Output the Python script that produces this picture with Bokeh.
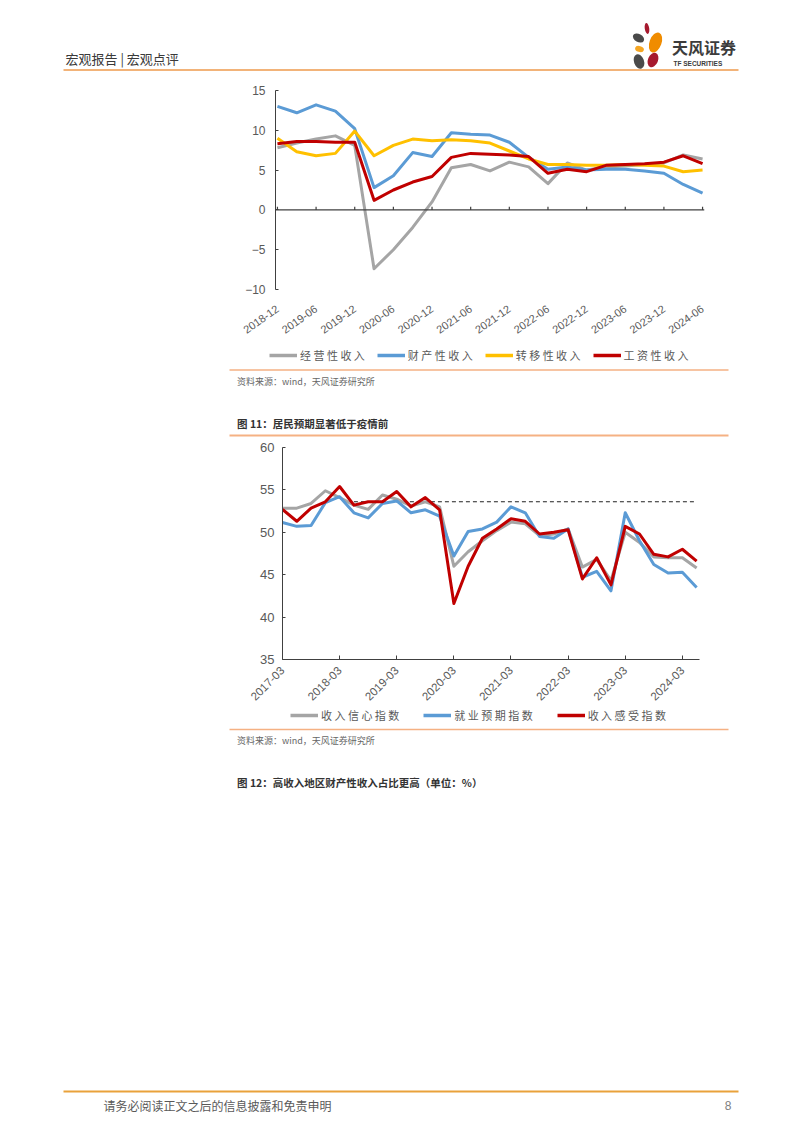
import math
from bokeh.plotting import figure
from bokeh.models import Range1d, FixedTicker, Legend, LegendItem, Span
from bokeh.layouts import column, row
from bokeh.core.properties import value
from bokeh.embed import file_html
from bokeh.resources import INLINE

# ---------------- data: chart 10 (income growth by source, %) ----------------
quarters1 = ["2018-12", "2019-03", "2019-06", "2019-09", "2019-12", "2020-03",
             "2020-06", "2020-09", "2020-12", "2021-03", "2021-06", "2021-09",
             "2021-12", "2022-03", "2022-06", "2022-09", "2022-12", "2023-03",
             "2023-06", "2023-09", "2023-12", "2024-03", "2024-06"]
business_income = [7.8, 8.4, 8.9, 9.3, 8.1, -7.4, -5.0, -2.2, 1.0, 5.3, 5.7, 4.9,
                   6.0, 5.4, 3.3, 5.9, 5.0, 5.4, 5.5, 5.7, 5.9, 6.9, 6.4]
property_income = [13.0, 12.2, 13.2, 12.4, 10.2, 2.8, 4.3, 7.2, 6.7, 9.7, 9.5, 9.4,
                   8.5, 6.6, 5.1, 5.4, 5.0, 5.1, 5.1, 4.9, 4.6, 3.2, 2.1]
transfer_income = [9.0, 7.3, 6.8, 7.1, 9.9, 6.8, 8.1, 8.9, 8.7, 8.8, 8.7, 8.4,
                   7.4, 6.4, 5.7, 5.7, 5.6, 5.6, 5.7, 5.6, 5.5, 4.8, 5.0]
wage_income = [8.3, 8.6, 8.6, 8.5, 8.5, 1.2, 2.5, 3.5, 4.2, 6.6, 7.1, 7.0,
               6.9, 6.7, 4.6, 5.1, 4.8, 5.6, 5.7, 5.8, 6.0, 6.8, 5.8]
names1 = ["经营性收入", "财产性收入", "转移性收入", "工资性收入"]
y_ticks1 = [-10, -5, 0, 5, 10, 15]

# ---------------- data: chart 11 (household expectations index) ----------------
quarters2 = ["2017-03", "2017-06", "2017-09", "2017-12", "2018-03", "2018-06",
             "2018-09", "2018-12", "2019-03", "2019-06", "2019-09", "2019-12",
             "2020-03", "2020-06", "2020-09", "2020-12", "2021-03", "2021-06",
             "2021-09", "2021-12", "2022-03", "2022-06", "2022-09", "2022-12",
             "2023-03", "2023-06", "2023-09", "2023-12", "2024-03", "2024-06"]
income_confidence = [52.85, 52.85, 53.4, 54.9, 54.1, 53.2, 52.7, 54.4, 53.9, 53.1,
                     53.6, 53.0, 46.0, 47.7, 49.0, 50.2, 51.2, 51.0, 49.6, 49.8,
                     50.4, 45.9, 46.8, 44.3, 50.0, 48.8, 47.1, 47.0, 47.0, 45.8]
employment_expect = [51.15, 50.7, 50.8, 53.5, 54.2, 52.3, 51.7, 53.4, 53.7, 52.3,
                     52.65, 51.9, 47.2, 50.1, 50.4, 51.2, 53.0, 52.3, 49.5, 49.3,
                     50.4, 44.7, 45.4, 43.1, 52.3, 49.0, 46.2, 45.2, 45.3, 43.5]
income_feeling = [52.7, 51.3, 52.85, 53.6, 55.4, 53.2, 53.6, 53.6, 54.8, 53.0,
                  54.1, 52.65, 41.6, 46.0, 49.3, 50.4, 51.6, 51.3, 49.8, 50.0,
                  50.3, 44.5, 47.0, 43.8, 50.7, 49.8, 47.4, 47.1, 48.0, 46.6]
names2 = ["收入信心指数", "就业预期指数", "收入感受指数"]
pre_covid_level = 53.6       # dashed reference line
pre_covid_start = "2018-06"  # dashed line starts here
y_ticks2 = [35, 40, 45, 50, 55, 60]

# ---------------- styles ----------------
CJK = "Noto Sans CJK SC"
NUM = "Liberation Sans"
GRAY, BLUE, YELLOW, RED = "#A5A5A5", "#5B9BD5", "#FFC000", "#C00000"
AXIS = "#404040"
LABEL = "#595959"
LIGHT_ORANGE = "#F5B183"
W = 786
NAN = float("nan")


def deco_fig(height, y_top):
    f = figure(width=W, height=height, x_range=Range1d(0, W),
               y_range=Range1d(y_top + height, y_top),
               x_axis_location=None, y_axis_location=None,
               output_backend="svg", toolbar_location=None, min_border=0)
    f.grid.visible = False
    f.outline_line_color = None
    return f


def put_text(f, x, y, s, size, color, bold=False, font=CJK, align="left"):
    f.text(x=[x], y=[y], text=[s], text_font=value(font), text_font_size=size,
           text_color=color, text_baseline="middle", text_align=align,
           text_font_style="bold" if bold else "normal")


def spaced(s):
    return " ".join(list(s))


def add_legend(f, names, colors, spacing, left, top, fig_bottom, h):
    # legend drawn in the caption strip; sample lines use the series' styles
    items = []
    for name, c in zip(names, colors):
        r = f.line(x=[NAN], y=[NAN], line_color=c, line_width=3.5)
        items.append(LegendItem(label=spaced(name), renderers=[r]))
    leg = Legend(items=items, orientation="horizontal",
                 location=(left, fig_bottom - top - h),
                 label_text_font=CJK, label_text_font_size="11px",
                 label_text_color=LABEL, glyph_width=28, glyph_height=h,
                 label_height=h, label_standoff=3, spacing=spacing,
                 padding=0, margin=0, border_line_color=None,
                 background_fill_alpha=0)
    f.add_layout(leg)


# ---------------- header (page y 0-80) ----------------
hdr = deco_fig(80, 0)
put_text(hdr, 65, 57.5, "宏观报告 | 宏观点评", "13px", "#3A3A3A")
hdr.line(x=[63, 738], y=[69.5, 69.5], line_color="#EE9A4D", line_width=1.6)
hdr.ellipse(x=[646.5], y=[28], width=4.5, height=11, angle=0.15, fill_color="#A6192E", line_color=None)
hdr.ellipse(x=[638], y=[37.5], width=12, height=8, angle=-0.5, fill_color="#4A4A4A", line_color=None)
hdr.ellipse(x=[655], y=[42], width=12, height=21, angle=-0.35, fill_color="#F08C00", line_color=None)
hdr.ellipse(x=[639], y=[48.5], width=9, height=6, angle=-0.3, fill_color="#F5A623", line_color=None)
hdr.ellipse(x=[638.5], y=[61], width=10, height=15, angle=0.35, fill_color="#4A4A4A", line_color=None)
hdr.ellipse(x=[652.5], y=[59.5], width=10, height=15, angle=-0.4, fill_color="#A6192E", line_color=None)
put_text(hdr, 671.5, 46.5, "天风证券", "16px", "#3C3C3C", bold=True)
put_text(hdr, 673, 62.5, "TF SECURITIES", "6.5px", "#3C3C3C", bold=True, font="Liberation Sans")

# ---------------- chart 1 (page y 80-346) ----------------
idx1 = list(range(len(quarters1)))
tick_idx1 = idx1[::2]
p1 = figure(width=W, height=266, x_range=Range1d(-0.1, len(quarters1) - 0.9),
            y_range=Range1d(-10, 15), output_backend="svg", toolbar_location=None,
            min_border_left=275, min_border_right=82, min_border_top=10,
            min_border_bottom=57)
p1.grid.visible = False
p1.outline_line_color = None
p1.xaxis.ticker = FixedTicker(ticks=tick_idx1)
p1.xaxis.major_label_overrides = {i: quarters1[i] for i in tick_idx1}
p1.xaxis.axis_line_color = None
p1.xaxis.major_tick_line_color = None
p1.xaxis.minor_tick_line_color = None
p1.xaxis.major_label_orientation = 0.61
p1.xaxis.major_label_standoff = 12
p1.xaxis.major_label_text_font_size = "11px"
p1.yaxis.ticker = FixedTicker(ticks=y_ticks1)
p1.yaxis.axis_line_color = AXIS
p1.yaxis.major_tick_line_color = AXIS
p1.yaxis.major_tick_in = 3
p1.yaxis.major_tick_out = 0
p1.yaxis.minor_tick_line_color = None
p1.yaxis.major_label_standoff = 10
p1.yaxis.major_label_text_font_size = "12px"
for ax in (p1.xaxis[0], p1.yaxis[0]):
    ax.major_label_text_font = NUM
    ax.major_label_text_color = LABEL

p1.add_layout(Span(location=0, dimension="width", line_color=AXIS, line_width=1.2))
p1.segment(x0=tick_idx1, y0=[0] * len(tick_idx1), x1=tick_idx1, y1=[0.4] * len(tick_idx1),
           line_color=AXIS, line_width=1.2)

series1 = [business_income, property_income, transfer_income, wage_income]
colors1 = [GRAY, BLUE, YELLOW, RED]
for ys, c in zip(series1, colors1):
    p1.line(x=idx1, y=ys, line_color=c, line_width=3, line_join="round")

# ---------------- caption strip (page y 346-440) ----------------
mid = deco_fig(94, 346)
add_legend(mid, names1, colors1, spacing=12, left=269, top=351, fig_bottom=440, h=12)
mid.line(x=[229, 728], y=[369.5, 369.5], line_color=LIGHT_ORANGE, line_width=1.5)
put_text(mid, 236.5, 381, "资料来源：wind，天风证券研究所", "9px", "#666666")
put_text(mid, 236.5, 423, "图 11：居民预期显著低于疫情前", "10.5px", "#333333", bold=True)
mid.line(x=[229, 728], y=[435, 435], line_color=LIGHT_ORANGE, line_width=1.8)

# ---------------- chart 2 (page y 440-707) ----------------
idx2 = list(range(len(quarters2)))
tick_idx2 = [i for i, q in enumerate(quarters2) if q.endswith("-03")]
p2 = figure(width=W, height=267, x_range=Range1d(0, len(quarters2) - 0.8),
            y_range=Range1d(35, 60), output_backend="svg", toolbar_location=None,
            min_border_left=282, min_border_right=87, min_border_top=7,
            min_border_bottom=48)
p2.grid.visible = False
p2.outline_line_color = None
p2.xaxis.ticker = FixedTicker(ticks=tick_idx2)
p2.xaxis.major_label_overrides = {i: quarters2[i] for i in tick_idx2}
p2.xaxis.axis_line_color = AXIS
p2.xaxis.major_tick_line_color = AXIS
p2.xaxis.major_tick_in = 4
p2.xaxis.major_tick_out = 0
p2.xaxis.minor_tick_line_color = None
p2.xaxis.major_label_orientation = math.pi / 4
p2.xaxis.major_label_standoff = 9
p2.xaxis.major_label_text_font_size = "11.5px"
p2.yaxis.ticker = FixedTicker(ticks=y_ticks2)
p2.yaxis.axis_line_color = AXIS
p2.yaxis.major_tick_line_color = AXIS
p2.yaxis.major_tick_in = 3
p2.yaxis.major_tick_out = 0
p2.yaxis.minor_tick_line_color = None
p2.yaxis.major_label_standoff = 8
p2.yaxis.major_label_text_font_size = "13px"
for ax in (p2.xaxis[0], p2.yaxis[0]):
    ax.major_label_text_font = NUM
    ax.major_label_text_color = LABEL

dash_i0 = quarters2.index(pre_covid_start)
p2.segment(x0=[dash_i0], y0=[pre_covid_level], x1=[idx2[-1]], y1=[pre_covid_level],
           line_color="#222222", line_width=1.2, line_dash="4 3")

series2 = [income_confidence, employment_expect, income_feeling]
colors2 = [GRAY, BLUE, RED]
for ys, c in zip(series2, colors2):
    p2.line(x=idx2, y=ys, line_color=c, line_width=3, line_join="round")

# ---------------- bottom captions + footer (page y 707-1117) ----------------
bot = deco_fig(410, 707)
add_legend(bot, names2, colors2, spacing=24, left=290, top=711, fig_bottom=1117, h=12)
bot.line(x=[229, 728], y=[729, 729], line_color=LIGHT_ORANGE, line_width=1.5)
put_text(bot, 236.5, 740, "资料来源：wind，天风证券研究所", "9px", "#666666")
put_text(bot, 236.5, 781.5, "图 12：高收入地区财产性收入占比更高（单位：%）", "10.5px", "#333333", bold=True)
bot.line(x=[63, 738], y=[1091, 1091], line_color="#E9A23B", line_width=2)
put_text(bot, 103, 1105, "请务必阅读正文之后的信息披露和免责申明", "12px", "#595959")
put_text(bot, 731, 1105, "8", "12px", "#808080", font=NUM, align="right")

page = column(row(hdr), row(p1), row(mid), row(p2), row(bot), spacing=0)
open("out.html", "w").write(file_html(page, INLINE))
